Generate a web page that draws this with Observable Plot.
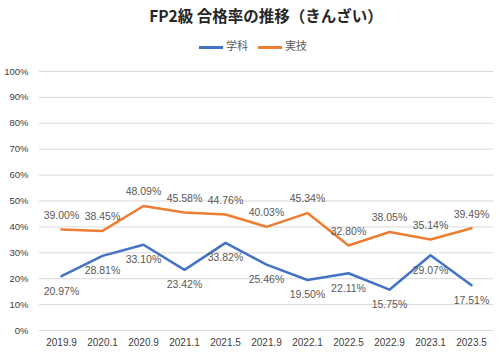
<!DOCTYPE html>
<html><head><meta charset="utf-8">
<script src="https://cdn.jsdelivr.net/npm/d3@7"></script>
<script src="https://cdn.jsdelivr.net/npm/@observablehq/plot@0.6"></script>
<style>
body{margin:0;background:#fff;}
#wrap{width:500px;height:352px;position:relative;overflow:hidden;font-family:"Liberation Sans",Arial,sans-serif;}
#title{height:31px;line-height:31px;text-align:center;padding-left:32px;box-sizing:border-box;font-family:"Noto Sans CJK JP",sans-serif;font-weight:bold;font-size:15.5px;color:#262626;}
#legend{height:28px;line-height:28px;text-align:center;padding-left:6px;box-sizing:border-box;font-family:"Noto Sans CJK JP",sans-serif;font-size:11px;color:#595959;}
#legend .sw{display:inline-block;width:24px;height:3px;vertical-align:middle;margin-right:3px;}
#legend .it{margin:0 5px;}
svg{display:block;}
</style></head>
<body><div id="wrap"><div id="title">FP2級 合格率の推移（きんざい）</div><div id="legend"></div><div id="chart"></div></div>
<script>
const categories = ["2019.9","2020.1","2020.9","2021.1","2021.5","2021.9","2022.1","2022.5","2022.9","2023.1","2023.5"];
const gakka = [20.97,28.81,33.10,23.42,33.82,25.46,19.50,22.11,15.75,29.07,17.51];
const jitsugi = [39.00,38.45,48.09,45.58,44.76,40.03,45.34,32.80,38.05,35.14,39.49];
const seriesNames = ["学科","実技"];
const colors = ["#4472C4","#ED7D31"];
const yTicks = [0,0.1,0.2,0.3,0.4,0.5,0.6,0.7,0.8,0.9,1.0];

const rows = [];
categories.forEach((c,i)=>{
  rows.push({cat:c, series:seriesNames[0], v:gakka[i]/100});
  rows.push({cat:c, series:seriesNames[1], v:jitsugi[i]/100});
});
const g = rows.filter(d=>d.series===seriesNames[0]);
const j = rows.filter(d=>d.series===seriesNames[1]);
const fmt = d=>d3.format(".2%")(d.v);

document.getElementById("legend").innerHTML = seriesNames.map((s,i)=>
  `<span class="it"><span class="sw" style="background:${colors[i]}"></span>${s}</span>`).join("");

const chart = Plot.plot({
  width:500, height:293,
  marginTop:12, marginBottom:22, marginLeft:39, marginRight:7,
  style:{fontFamily:"Liberation Sans, Arial, sans-serif", fontSize:"10px", color:"#404040", background:"#fff"},
  x:{type:"point", domain:categories, padding:0.5, label:null},
  y:{domain:[0,1], label:null},
  color:{domain:seriesNames, range:colors},
  marks:[
    Plot.gridY(yTicks,{stroke:"#d9d9d9", strokeOpacity:1, strokeWidth:1}),
    Plot.axisY({ticks:yTicks, tickFormat:d3.format(".0%"), tickSize:0, tickPadding:11, fontSize:9.5, label:null, fill:"#404040"}),
    Plot.axisX({tickSize:0, tickPadding:8, label:null, fill:"#404040", fontSize:10}),
    Plot.line(rows,{x:"cat", y:"v", z:"series", stroke:"series", strokeWidth:2.5, strokeLinejoin:"round"}),
    Plot.text(j,{x:"cat", y:"v", text:fmt, dy:-14, fill:"#595959", fontSize:10.5}),
    Plot.text(g,{x:"cat", y:"v", text:fmt, dy:15, fill:"#595959", fontSize:10.5})
  ]
});
document.getElementById("chart").appendChild(chart);
</script></body></html>
